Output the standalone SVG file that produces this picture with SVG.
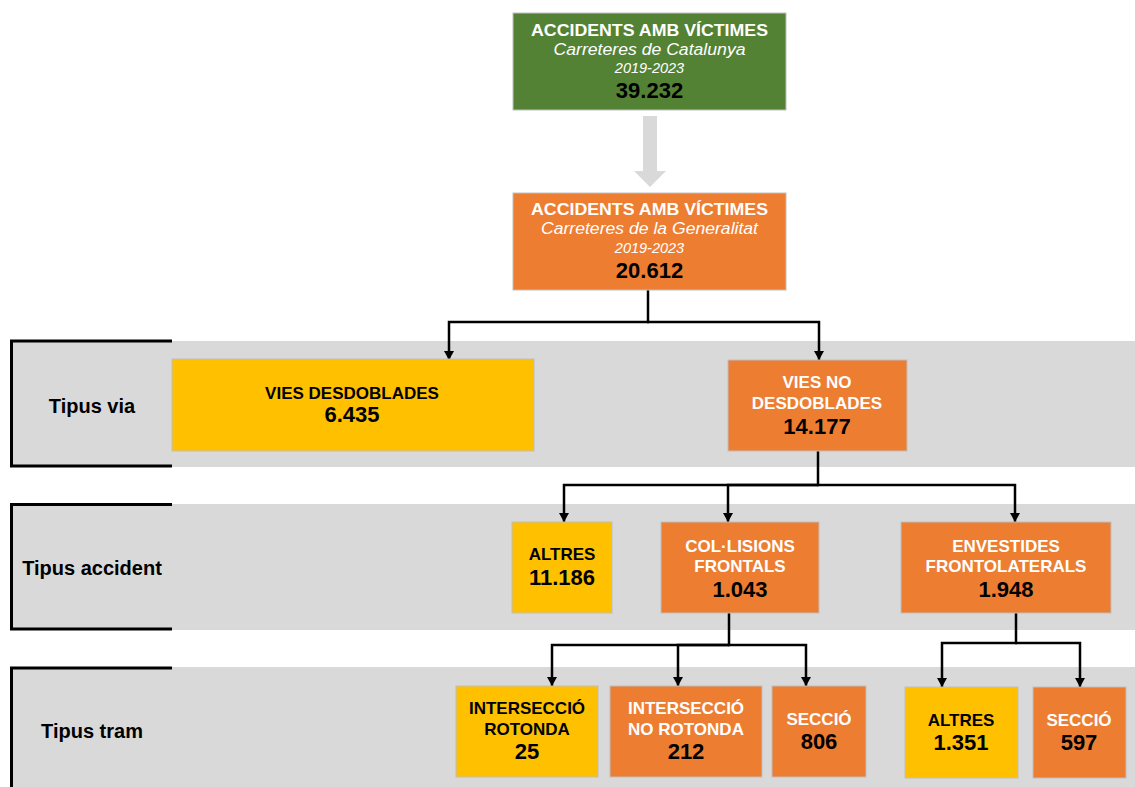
<svg xmlns="http://www.w3.org/2000/svg" width="1135" height="787" viewBox="0 0 1135 787">
<defs>
<style>
text{font-family:"Liberation Sans",Arial,sans-serif;text-anchor:middle}
.band{fill:#D9D9D9}
.brk{fill:none;stroke:#000;stroke-width:3}
.lbl{font-size:20px;font-weight:bold;fill:#000}
.box{stroke:#BFBFBF;stroke-width:1}
.g{fill:#548235}.o{fill:#ED7D31}.y{fill:#FFC000}
.t{font-size:17px;font-weight:bold}
.tw{fill:#fff}.tb{fill:#000}
.n{font-size:22px;font-weight:bold;fill:#000}
.it{font-style:italic;fill:#fff}
.con{fill:none;stroke:#000;stroke-width:2.5;marker-end:url(#ah)}
.ln{fill:none;stroke:#000;stroke-width:2.5}
</style>
<marker id="ah" markerUnits="userSpaceOnUse" markerWidth="10" markerHeight="10" refX="9" refY="5" orient="auto">
<path d="M0,0 L9,5 L0,10 Z" fill="#000"/>
</marker>
</defs>
<rect width="1135" height="787" fill="#fff"/>

<g id="bands">
<rect class="band" x="10" y="341" width="1125" height="126"/>
<rect class="band" x="10" y="504" width="1125" height="126"/>
<rect class="band" x="10" y="667" width="1125" height="120"/>
<path class="brk" d="M172,341 H11.5 V466 H172"/>
<path class="brk" d="M172,504.5 H11.5 V629 H172"/>
<path class="brk" d="M172,668 H11.5 V787"/>
<text class="lbl" x="92" y="413">Tipus via</text>
<text class="lbl" x="92" y="575">Tipus accident</text>
<text class="lbl" x="92" y="738">Tipus tram</text>
</g>

<g id="connectors">
<polygon points="643,116 657,116 657,171 666,171 650,187 634,171 643,171" fill="#D9D9D9"/>
<path class="ln" d="M648,290 V322"/>
<path class="con" d="M649,322 H449 V360"/>
<path class="con" d="M647,322 H819 V360"/>
<path class="ln" d="M818,450 V485"/>
<path class="con" d="M819,485 H564 V522"/>
<path class="con" d="M818,485 H728 V522"/>
<path class="con" d="M817,485 H1015 V522"/>
<path class="ln" d="M729,613 V645"/>
<path class="con" d="M730,645 H552 V686"/>
<path class="con" d="M729,645 H678 V686"/>
<path class="con" d="M728,645 H806 V686"/>
<path class="ln" d="M1016,613 V643"/>
<path class="con" d="M1017,643 H942 V687"/>
<path class="con" d="M1015,643 H1080 V687"/>
</g>

<g id="n-catalunya">
<rect class="box g" x="513" y="13" width="273" height="97"/>
<text class="tw" x="649.5" y="36" font-size="16.5" font-weight="bold" textLength="237" lengthAdjust="spacingAndGlyphs">ACCIDENTS AMB VÍCTIMES</text>
<text class="it" x="649.5" y="55" font-size="16" textLength="192" lengthAdjust="spacingAndGlyphs">Carreteres de Catalunya</text>
<text class="it" x="649.5" y="73" font-size="14.5">2019-2023</text>
<text class="n" x="649.5" y="98">39.232</text>
</g>

<g id="n-generalitat">
<rect class="box o" x="513" y="193" width="273" height="97"/>
<text class="tw" x="649.5" y="215" font-size="16.5" font-weight="bold" textLength="237" lengthAdjust="spacingAndGlyphs">ACCIDENTS AMB VÍCTIMES</text>
<text class="it" x="649.5" y="234" font-size="16" textLength="217" lengthAdjust="spacingAndGlyphs">Carreteres de la Generalitat</text>
<text class="it" x="649.5" y="253" font-size="14.5">2019-2023</text>
<text class="n" x="649.5" y="278">20.612</text>
</g>

<g id="n-desdoblades">
<rect class="box y" x="172" y="359" width="362" height="92"/>
<text class="t tb" x="352" y="399">VIES DESDOBLADES</text>
<text class="n" x="352" y="422">6.435</text>
</g>

<g id="n-no-desdoblades">
<rect class="box o" x="728" y="360" width="179" height="91"/>
<text class="t tw" x="817" y="388">VIES NO</text>
<text class="t tw" x="817" y="409">DESDOBLADES</text>
<text class="n" x="817" y="434">14.177</text>
</g>

<g id="n-altres-acc">
<rect class="box y" x="512" y="522" width="100" height="91"/>
<text class="t tb" x="562" y="560">ALTRES</text>
<text class="n" x="562" y="585">11.186</text>
</g>

<g id="n-collisions">
<rect class="box o" x="661" y="522" width="158" height="91"/>
<text class="t tw" x="740" y="552">COL·LISIONS</text>
<text class="t tw" x="740" y="572">FRONTALS</text>
<text class="n" x="740" y="597">1.043</text>
</g>

<g id="n-envestides">
<rect class="box o" x="901" y="522" width="210" height="91"/>
<text class="t tw" x="1006" y="552">ENVESTIDES</text>
<text class="t tw" x="1006" y="572">FRONTOLATERALS</text>
<text class="n" x="1006" y="597">1.948</text>
</g>

<g id="n-int-rotonda">
<rect class="box y" x="456" y="686" width="142" height="91"/>
<text class="t tb" x="527" y="714">INTERSECCIÓ</text>
<text class="t tb" x="527" y="735">ROTONDA</text>
<text class="n" x="527" y="759">25</text>
</g>

<g id="n-int-no-rotonda">
<rect class="box o" x="610" y="686" width="152" height="91"/>
<text class="t tw" x="686" y="714">INTERSECCIÓ</text>
<text class="t tw" x="686" y="735">NO ROTONDA</text>
<text class="n" x="686" y="759">212</text>
</g>

<g id="n-seccio-1">
<rect class="box o" x="772" y="686" width="94" height="91"/>
<text class="t tw" x="819" y="725">SECCIÓ</text>
<text class="n" x="819" y="749">806</text>
</g>

<g id="n-altres-tram">
<rect class="box y" x="905" y="687" width="113" height="91"/>
<text class="t tb" x="961" y="726">ALTRES</text>
<text class="n" x="961" y="750">1.351</text>
</g>

<g id="n-seccio-2">
<rect class="box o" x="1033" y="687" width="93" height="91"/>
<text class="t tw" x="1079" y="726">SECCIÓ</text>
<text class="n" x="1079" y="750">597</text>
</g>
</svg>
